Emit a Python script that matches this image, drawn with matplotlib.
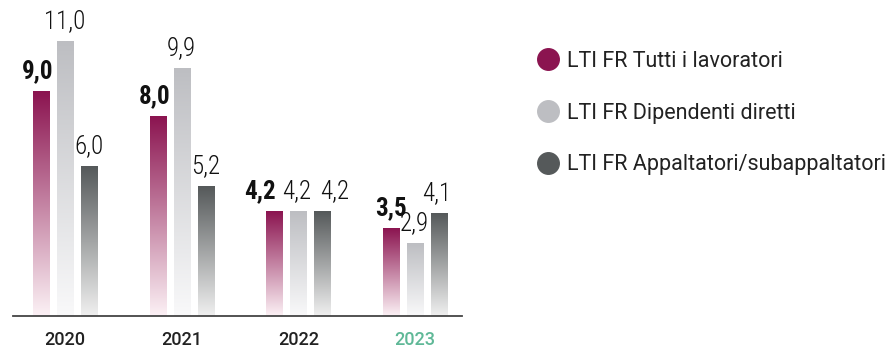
import numpy as np
import matplotlib.pyplot as plt
from matplotlib.colors import to_rgb
from matplotlib.lines import Line2D

years = ["2020", "2021", "2022", "2023"]
series = ["LTI FR Tutti i lavoratori", "LTI FR Dipendenti diretti", "LTI FR Appaltatori/subappaltatori"]
tutti = [9.0, 8.0, 4.2, 3.5]
diretti = [11.0, 9.9, 4.2, 2.9]
appaltatori = [6.0, 5.2, 4.2, 4.1]

colors = ["#8b1450", "#bdbec2", "#55595a"]
bottom_colors = ["#fcf1f5", "#f9f9fa", "#f0f0f0"]
year_colors = ["#222222", "#222222", "#222222", "#5fb897"]

# horizontal nudges (px) for value labels where they would collide
label_dx = [[-3, 0, 0], [-3, 0, 0], [-15, -2, 12], [0, -1, -2]]

plt.rcParams["font.family"] = ["Roboto", "DejaVu Sans"]

W, H = 896, 349
fig = plt.figure(figsize=(W / 100, H / 100), dpi=100)
ax = fig.add_axes([13 / W, 33 / H, 452 / W, 316 / H])
px_per_unit = 25.0
ax.set_xlim(-0.446, 3.427)
ax.set_ylim(0, 316 / px_per_unit)
ax.axis("off")
group_px = 116.7


def gradient_bar(x, h, w, top, bottom):
    t = np.linspace(0, 1, 256)[:, None]
    c0 = np.array(to_rgb(bottom))
    c1 = np.array(to_rgb(top))
    img = (c0 + (c1 - c0) * t)[:, None, :]
    ax.imshow(img, extent=[x - w / 2, x + w / 2, 0, h], origin="lower",
              aspect="auto", interpolation="bilinear", zorder=2)


offset = 24 / group_px
width = 16 / group_px
data = [tutti, diretti, appaltatori]
for s, vals in enumerate(data):
    for i, v in enumerate(vals):
        x = i + (s - 1) * offset
        gradient_bar(x, v, width, colors[s], bottom_colors[s])
        ax.text(x + label_dx[i][s] / group_px, v + 8 / px_per_unit,
                f"{v:.1f}".replace(".", ","), ha="center", va="bottom",
                fontsize=18, family=["Roboto Condensed", "DejaVu Sans"],
                fontweight="bold" if s == 0 else "light", color="#111111")

ax.plot([-0.446, 3.40], [0, 0], color="#444444", lw=1.3, zorder=3, clip_on=False)

for i, y in enumerate(years):
    ax.text(i, -24 / px_per_unit, y, ha="center", va="center", fontsize=13,
            color=year_colors[i], fontweight="medium")

handles = [Line2D([], [], marker="o", linestyle="none", markersize=15.5,
                  markerfacecolor=c, markeredgecolor=c) for c in colors]
fig.legend(handles, series, loc="upper left", bbox_to_anchor=(537 / W, 1 - 51 / H),
           frameon=False, fontsize=15.5, labelspacing=1.42, handletextpad=0.4,
           handlelength=1.0, borderpad=0, borderaxespad=0, labelcolor="#222222")

fig.savefig("out.png", dpi=100)
